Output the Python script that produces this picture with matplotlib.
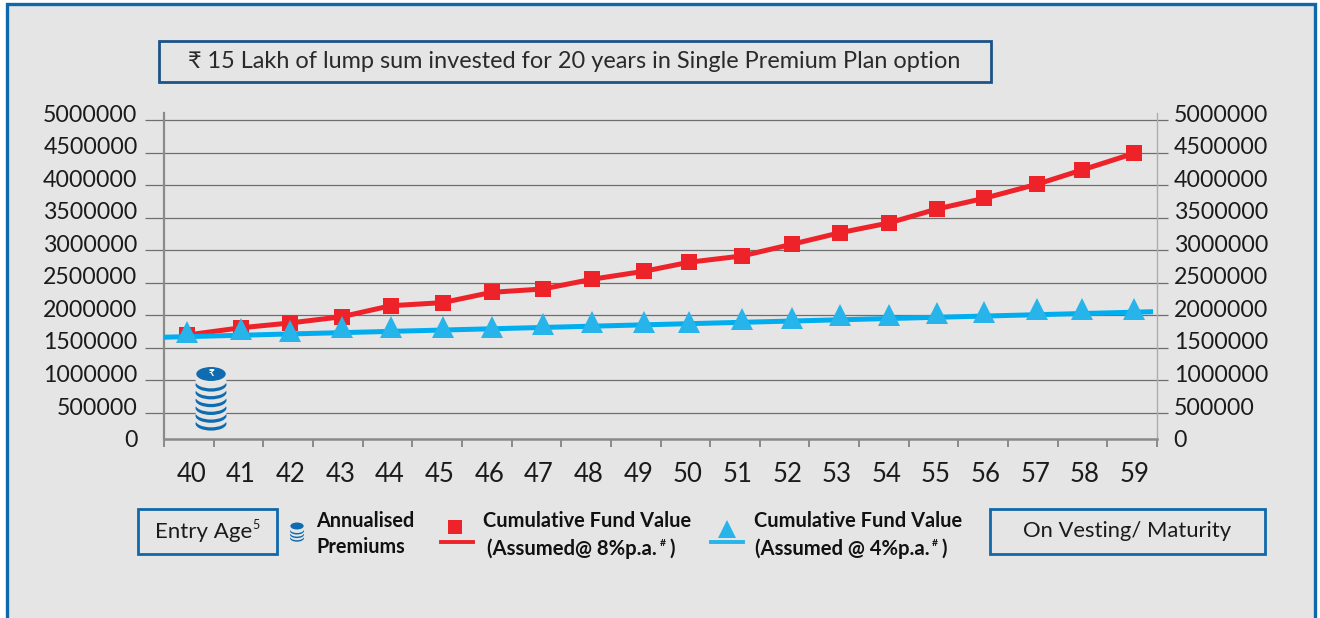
import matplotlib
matplotlib.use("Agg")
import matplotlib.pyplot as plt
from matplotlib.lines import Line2D
from matplotlib.patches import Ellipse, Rectangle
from matplotlib.transforms import IdentityTransform, ScaledTranslation

plt.rcParams['font.family'] = ['Lato', 'DejaVu Sans']

# Data
entry_age = [40, 41, 42, 43, 44, 45, 46, 47, 48, 49, 50, 51, 52, 53, 54, 55, 56, 57, 58, 59]
marker_pos = [39.96, 41.06, 42.04, 43.08, 44.07, 45.11, 46.10, 47.13, 48.12, 49.17,
              50.07, 51.14, 52.15, 53.12, 54.10, 55.07, 56.02, 57.08, 57.99, 59.04]
fund_8 = [1697000, 1809000, 1882000, 1978000, 2147000, 2194000, 2353000, 2404000, 2553000, 2676000,
          2814000, 2911000, 3091000, 3269000, 3418000, 3633000, 3797000, 4012000, 4232000, 4488000]
fund_4 = [1736000, 1794000, 1766000, 1825000, 1814000, 1814000, 1814000, 1869000, 1897000, 1897000,
          1902000, 1948000, 1966000, 1997000, 2009000, 2031000, 2054000, 2089000, 2092000, 2092000]
fund_4_line_x = [39.5, 59.42]
fund_4_line = [1663000, 2055000]
y_ticks = [0, 500000, 1000000, 1500000, 2000000, 2500000, 3000000, 3500000, 4000000, 4500000, 5000000]

BG = "#e5e5e5"
RED = "#ee2229"
BLUE = "#27b4ea"
BLUE_LINE = "#00aeef"
FRAME = "#0f68aa"
DARK = "#1b1b1b"
GRID = "#6e6e6e"

fig = plt.figure(figsize=(13.2, 6.18), dpi=100, facecolor="white")
H = 618


def rect(x0, y0, x1, y1, edge=FRAME, face="none", lw=2.0, z=0.5):
    fig.add_artist(Rectangle((x0, H - y1), x1 - x0, y1 - y0, transform=IdentityTransform(),
                             edgecolor=edge, facecolor=face, linewidth=lw, zorder=z))


def label(x, y, s, size=16, weight="normal", ha="left", color=DARK):
    fig.text(x, H - y, s, transform=IdentityTransform(), fontsize=size, fontweight=weight,
             ha=ha, va="center", color=color, zorder=6)


def coins(cx, top, w, h, gap, n):
    # pile of coins, bottom one first
    for i in range(n, 0, -1):
        y = top + i * gap + h * 0.2
        fig.add_artist(Ellipse((cx, H - y), w, h, transform=IdentityTransform(), color="#0f6cb0", lw=0, zorder=4))
        fig.add_artist(Ellipse((cx, H - y + gap * 0.42), w, h, transform=IdentityTransform(), color=BG, lw=0, zorder=4))
    fig.add_artist(Ellipse((cx, H - top), w * 0.95, h, transform=IdentityTransform(), color="#0f6cb0", lw=0, zorder=4))


# background and outer frame
rect(7, 4, 1315, 640, face=BG, lw=2.4, z=-1)

ax = fig.add_axes([164 / 1320, 1 - 438.6 / 618, (1157 - 164) / 1320, (438.6 - 113) / 618])
ax.set_facecolor("none")
ax.set_xlim(39.5, 59.5)
ax.set_ylim(106000, 5107000)

ax.hlines([v for v in y_ticks if v > 0], 39.117, 59.72, color=GRID, lw=0.9, clip_on=False, zorder=1)

ax.plot(marker_pos, fund_8, color=RED, lw=3.6, marker="s", ms=11.5, mew=0, zorder=3, clip_on=False)
ax.plot(fund_4_line_x, fund_4_line, color=BLUE_LINE, lw=3.6, solid_capstyle="butt", zorder=4)
ax.plot(marker_pos, fund_4, color=BLUE, lw=0, marker="^", ms=16, mew=0, zorder=5)

ax.spines["top"].set_visible(False)
ax.spines["left"].set_color("#8a8a8a")
ax.spines["left"].set_linewidth(1.6)
ax.spines["bottom"].set_color("#8a8a8a")
ax.spines["bottom"].set_linewidth(1.8)
ax.spines["right"].set_color("#adadad")
ax.spines["right"].set_linewidth(1.0)

ax.set_yticks([])
ax.set_xticks(entry_age)
ax.set_xticklabels([str(a) for a in entry_age], fontsize=18.5, color=DARK)
ax.set_xticks([a - 0.5 for a in entry_age] + [59.5], minor=True)
ax.tick_params(axis="x", which="major", length=0, pad=17)
ax.tick_params(axis="x", which="minor", length=5.5, width=1.4, color="#8a8a8a")
# age labels sit slightly right of the category centre
for t in ax.get_xticklabels():
    t.set_transform(t.get_transform() + ScaledTranslation(1.8 / 72, 0, fig.dpi_scale_trans))

# y labels sit a little above their gridlines on both sides
for v in y_ticks:
    ax.annotate(str(v), xy=(0, v), xycoords=ax.get_yaxis_transform(), xytext=(-19, 3.5),
                textcoords="offset points", ha="right", va="center", fontsize=16.7,
                color=DARK, annotation_clip=False)
    ax.annotate(str(v), xy=(1, v), xycoords=ax.get_yaxis_transform(), xytext=(12, 3.5),
                textcoords="offset points", ha="left", va="center", fontsize=16.7,
                color=DARK, annotation_clip=False)

# title box
rect(159, 41, 991, 82, edge="#1c5288")
label(574, 61, "₹ 15 Lakh of lump sum invested for 20 years in Single Premium Plan option", size=16.9, ha="center", color="#2a2a2a")

# coin pile at age 40
coins(211, 374, 31, 14, 7.8, 6)
label(211, 374, "₹", size=7, weight="bold", ha="center", color="white")

# bottom boxes
rect(138, 509, 277, 554)
label(155, 532, "Entry Age", size=16)
label(252, 525, "5", size=9)
rect(990, 509, 1265, 554)
label(1127, 531, "On Vesting/ Maturity", size=15.8, ha="center")

# legend
coins(297, 526, 14, 7, 3.6, 3)
label(316, 521, "Annualised", size=14.3, weight="bold", color="#111111")
label(316, 547, "Premiums", size=14.3, weight="bold", color="#111111")

fig.add_artist(Line2D([455], [H - 527], transform=IdentityTransform(), marker="s", ms=10.5, mew=0, color=RED, zorder=5))
fig.add_artist(Line2D([441, 473], [H - 542, H - 542], transform=IdentityTransform(), color=RED, lw=2.8, zorder=5))
label(483, 521, "Cumulative Fund Value", size=14.4, weight="bold", color="#111111")
label(487, 549, "(Assumed@ 8%p.a.", size=14.6, weight="bold", color="#111111")
label(660, 544, "#", size=7.5, weight="bold", color="#111111")
label(669, 549, ")", size=14.6, weight="bold", color="#111111")

fig.add_artist(Line2D([727], [H - 529], transform=IdentityTransform(), marker="^", ms=13.5, mew=0, color=BLUE, zorder=5))
fig.add_artist(Line2D([711, 743], [H - 542, H - 542], transform=IdentityTransform(), color=BLUE, lw=2.8, zorder=5))
label(754, 521, "Cumulative Fund Value", size=14.4, weight="bold", color="#111111")
label(755, 549, "(Assumed @ 4%p.a.", size=14.6, weight="bold", color="#111111")
label(932, 544, "#", size=7.5, weight="bold", color="#111111")
label(941, 549, ")", size=14.6, weight="bold", color="#111111")

fig.savefig("out.png", dpi=100, facecolor="white")
